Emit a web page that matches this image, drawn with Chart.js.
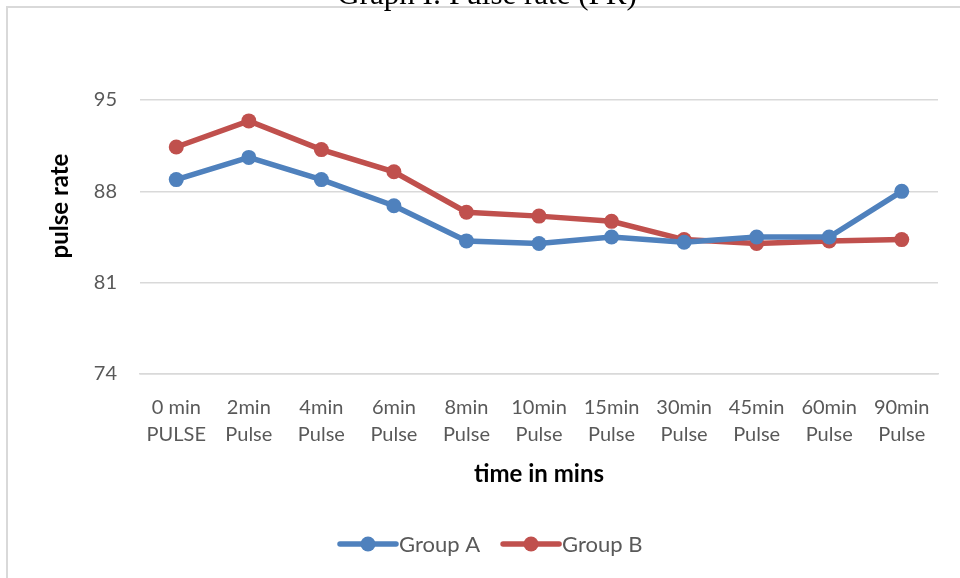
<!DOCTYPE html>
<html>
<head>
<meta charset="utf-8">
<script src="https://cdn.jsdelivr.net/npm/chart.js@4.4.1/dist/chart.umd.min.js"></script>
<style>
  html, body { margin: 0; padding: 0; background: #fff; }
  #wrap { position: relative; width: 960px; height: 578px; overflow: hidden; }
  #frame { position: absolute; left: 6px; top: 6px; width: 970px; height: 600px;
           border-left: 2px solid #d9d9d9; border-top: 2px solid #d9d9d9; box-sizing: border-box; }
  canvas { position: absolute; left: 0; top: 0; }
</style>
</head>
<body>
<div id="wrap">
  <div id="frame"></div>
  <canvas id="c" width="960" height="578"></canvas>
</div>
<script>
// Pulse rate readings per time point
const timeLabels = [
  ['0 min', 'PULSE'], ['2min', 'Pulse'], ['4min', 'Pulse'], ['6min', 'Pulse'],
  ['8min', 'Pulse'], ['10min', 'Pulse'], ['15min', 'Pulse'], ['30min', 'Pulse'],
  ['45min', 'Pulse'], ['60min', 'Pulse'], ['90min', 'Pulse']
];
const groupA = [88.9, 90.6, 88.9, 86.9, 84.2, 84.0, 84.5, 84.1, 84.5, 84.5, 88.0];
const groupB = [91.4, 93.4, 91.2, 89.5, 86.4, 86.1, 85.7, 84.3, 84.0, 84.2, 84.3];
const yTicks = [74, 81, 88, 95];

const FONT = 'Lato, "Open Sans", sans-serif';
const GRAY = '#595959';

// Title, y-axis title and line-style legend drawn on top of the chart
const decorations = {
  id: 'decorations',
  afterDraw(chart) {
    const ctx = chart.ctx;
    ctx.save();
    // chart title
    ctx.fillStyle = '#000';
    ctx.font = '31px "Liberation Serif", serif';
    ctx.textAlign = 'center';
    ctx.textBaseline = 'alphabetic';
    ctx.fillText('Graph I: Pulse rate (PR)', 487, 4);

    // y-axis title
    ctx.save();
    ctx.translate(60, 206);
    ctx.rotate(-Math.PI / 2);
    ctx.font = 'bold 24px ' + FONT;
    ctx.textBaseline = 'middle';
    ctx.fillText('pulse rate', 0, 0);
    ctx.restore();

    // legend
    const y = 544;
    let x = 340;
    ctx.font = '22px ' + FONT;
    ctx.textAlign = 'left';
    ctx.textBaseline = 'middle';
    chart.data.datasets.forEach(ds => {
      ctx.strokeStyle = ds.borderColor;
      ctx.lineWidth = 5.5;
      ctx.lineCap = 'round';
      ctx.beginPath();
      ctx.moveTo(x, y);
      ctx.lineTo(x + 56, y);
      ctx.stroke();
      ctx.fillStyle = ds.borderColor;
      ctx.beginPath();
      ctx.arc(x + 28, y, 7.5, 0, Math.PI * 2);
      ctx.fill();
      ctx.fillStyle = GRAY;
      ctx.fillText(ds.label, x + 59, y + 1);
      x += 59 + ctx.measureText(ds.label).width + 23;
    });
    ctx.restore();
  }
};

new Chart(document.getElementById('c'), {
  type: 'line',
  data: {
    labels: timeLabels,
    datasets: [
      { label: 'Group A', data: groupA, borderColor: '#4f81bd', backgroundColor: '#4f81bd',
        borderWidth: 5.5, pointRadius: 7.5, pointBorderWidth: 0, tension: 0 },
      { label: 'Group B', data: groupB, borderColor: '#c0504d', backgroundColor: '#c0504d',
        borderWidth: 5.5, pointRadius: 7.5, pointBorderWidth: 0, tension: 0 }
    ]
  },
  options: {
    responsive: false,
    animation: false,
    devicePixelRatio: 1,
    layout: { padding: { left: 0, top: 100, right: 22, bottom: 92 } },
    plugins: { legend: { display: false }, tooltip: { enabled: false }, title: { display: false } },
    scales: {
      x: {
        offset: true,
        grid: { display: false, drawTicks: false },
        border: { display: true, color: '#d9d9d9', width: 1.5 },
        ticks: { color: GRAY, font: { family: FONT, size: 20, lineHeight: 1.35 }, padding: 20,
                 maxRotation: 0, autoSkip: false },
        title: { display: true, text: 'time in mins', color: '#000',
                 font: { family: FONT, size: 24, weight: 'bold', lineHeight: 1.0 },
                 padding: { top: 0, bottom: 0 } },
        afterFit(scale) { scale.height = 112; }
      },
      y: {
        min: yTicks[0], max: yTicks[yTicks.length - 1],
        afterBuildTicks(scale) { scale.ticks = yTicks.map(v => ({ value: v })); },
        grid: { color: '#d9d9d9', lineWidth: 1.5, drawTicks: false },
        border: { display: false },
        ticks: { color: GRAY, font: { family: FONT, size: 20 }, padding: 23 },
        afterFit(scale) { scale.width = 140; }
      }
    }
  },
  plugins: [decorations]
});
</script>
</body>
</html>
